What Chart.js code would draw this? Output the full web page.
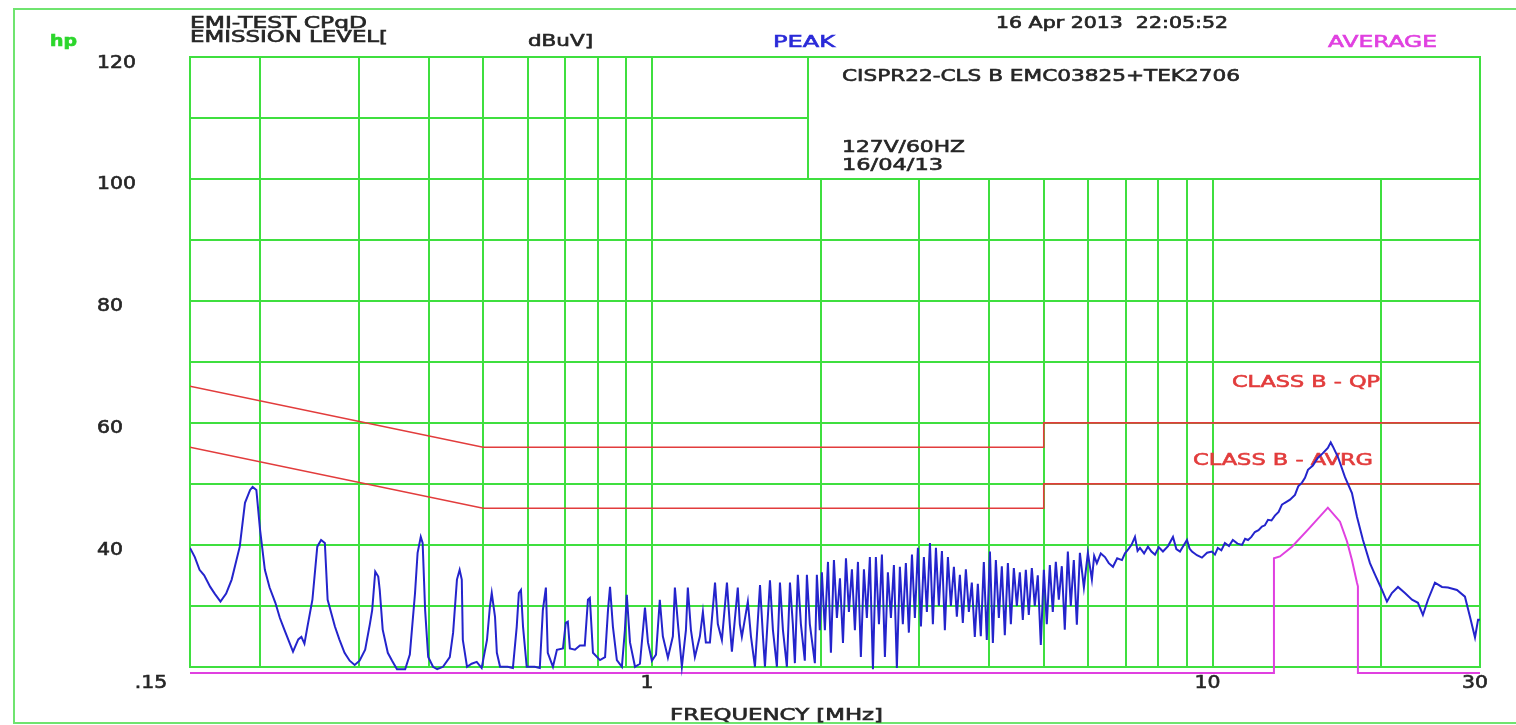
<!DOCTYPE html>
<html>
<head>
<meta charset="utf-8">
<title>EMI-TEST CPqD</title>
<script src="https://cdn.jsdelivr.net/npm/chart.js@4.4.0/dist/chart.umd.min.js"></script>
<style>
  body { margin: 0; background: #fff; }
  canvas { display: block; }
</style>
</head>
<body>
<canvas id="emi" width="1516" height="725"></canvas>
<script>
  // Varredura PEAK (MHz / dBuV)
  let peakFreq = [
    0.150, 0.153, 0.156, 0.159, 0.163, 0.166, 0.170, 0.174, 0.178, 0.184, 0.188, 0.192, 0.194, 0.197, 0.200,
    0.204, 0.208, 0.213, 0.217, 0.221, 0.229, 0.234, 0.237, 0.240, 0.243, 0.248, 0.253, 0.257, 0.261, 0.264,
    0.272, 0.277, 0.283, 0.289, 0.295, 0.301, 0.308, 0.314, 0.317, 0.321, 0.325, 0.327, 0.331, 0.338, 0.344,
    0.351, 0.363, 0.370, 0.378, 0.382, 0.387, 0.390, 0.394, 0.399, 0.407, 0.414, 0.424, 0.436, 0.442, 0.449,
    0.454, 0.458, 0.460, 0.468, 0.477, 0.487, 0.497, 0.508, 0.514, 0.518, 0.525, 0.529, 0.536, 0.553, 0.565,
    0.574, 0.579, 0.584, 0.589, 0.598, 0.618, 0.631, 0.639, 0.647, 0.652, 0.666, 0.677, 0.694, 0.702, 0.708,
    0.714, 0.729, 0.744, 0.759, 0.769, 0.775, 0.785, 0.808, 0.825, 0.835, 0.842, 0.852, 0.866, 0.884, 0.895,
    0.902, 0.914, 0.933, 0.952, 0.972, 0.984, 1.000, 1.017, 1.033, 1.046, 1.068, 1.090, 1.099, 1.113, 1.131,
    1.150, 1.159, 1.174, 1.193, 1.218, 1.233, 1.248, 1.269, 1.296, 1.311, 1.333, 1.361, 1.377, 1.389, 1.423,
    1.435, 1.447, 1.483, 1.502, 1.527, 1.559, 1.578, 1.591, 1.624, 1.644, 1.671, 1.692, 1.713, 1.741, 1.763,
    1.784, 1.799, 1.821, 1.844, 1.874, 1.890, 1.913, 1.953, 1.969, 1.993,
    2.010, 2.035, 2.061, 2.086, 2.112, 2.138, 2.165, 2.192, 2.219, 2.246, 2.274, 2.302, 2.331, 2.359, 2.389,
    2.418, 2.448, 2.479, 2.509, 2.541, 2.572, 2.604, 2.636, 2.669, 2.702, 2.735, 2.769, 2.803, 2.838, 2.873,
    2.910, 2.945, 2.982, 3.019, 3.056, 3.094, 3.133, 3.171, 3.211, 3.250, 3.291, 3.331, 3.373, 3.414, 3.457,
    3.499, 3.543, 3.586, 3.631, 3.676, 3.721, 3.767, 3.814, 3.861, 3.909, 3.957, 4.008, 4.057, 4.107, 4.158,
    4.209, 4.261, 4.315, 4.368, 4.422, 4.477, 4.532, 4.588, 4.645, 4.702, 4.761, 4.819, 4.879, 4.940, 5.002,
    5.063, 5.126, 5.189, 5.254, 5.319, 5.385, 5.451, 5.520, 5.587, 5.657, 5.728, 5.800,
    5.896, 5.993, 6.093, 6.150, 6.219, 6.320, 6.429, 6.530,
    6.644, 6.760, 6.894, 6.980, 7.066, 7.170, 7.272, 7.350, 7.423, 7.550, 7.671, 7.780, 7.895, 8.020, 8.158,
    8.330, 8.501, 8.620, 8.749, 8.880, 9.004, 9.100, 9.191, 9.380, 9.575, 9.780, 9.977, 10.10, 10.22, 10.37,
    10.52, 10.70, 10.87, 11.08, 11.29, 11.43, 11.57, 11.73, 11.90, 12.08, 12.25, 12.40, 12.56, 12.74, 12.92,
    13.12, 13.30, 13.46, 13.75, 14.03, 14.22, 14.44, 14.62, 14.80, 15.10, 15.42, 15.72, 16.06, 16.25, 16.40,
    16.74, 17.23, 17.73, 18.10, 18.55, 19.09, 19.49, 20.06, 20.47, 20.89, 21.42, 22.04, 22.69, 23.25, 23.73,
    24.23, 24.93, 25.66, 26.30, 27.29, 28.20, 28.79, 29.39, 29.76, 30.00
  ];
  let peakLevel = [
    39.5, 38.0, 35.9, 35.0, 33.1, 32.0, 30.7, 32.0, 34.3, 39.7, 46.9, 49.0, 49.5, 49.0, 42.5,
    35.9, 33.0, 30.5, 28.0, 26.1, 22.5, 24.5, 24.9, 23.8, 26.6, 31.0, 39.7, 40.8, 40.3, 31.0,
    26.6, 24.5, 22.3, 21.0, 20.3, 21.0, 22.8, 27.0, 29.3, 35.6, 34.8, 32.6, 26.1, 22.3, 21.0,
    19.6, 19.6, 22.0, 32.1, 38.7, 41.3, 40.3, 29.3, 21.6, 20.0, 19.6, 20.0, 21.6, 25.6, 34.3,
    35.9, 34.3, 24.4, 20.0, 20.5, 20.8, 19.8, 24.4, 29.8, 32.1, 28.2, 22.3, 20.0, 20.0, 19.8,
    26.6, 32.1, 32.6, 26.6, 20.0, 20.0, 19.8, 29.3, 33.0, 22.3, 20.0, 22.8, 23.0, 27.2, 27.4,
    23.0, 22.8, 23.5, 23.5, 31.0, 31.3, 22.3, 21.1, 21.6, 29.3, 33.1, 26.6, 21.1, 20.0, 26.0,
    31.8, 24.0, 20.0, 20.5, 29.7, 24.0, 21.0, 22.0, 31.0, 25.0, 21.5, 25.0, 33.0, 27.0, 20.0,
    26.0, 33.0, 26.0, 21.6, 25.0, 29.0, 24.0, 24.0, 33.8, 27.0, 24.4, 33.8, 27.0, 22.5, 33.0,
    27.0, 24.9, 30.7, 25.0, 20.0, 33.4, 25.0, 20.0, 34.2, 26.0, 20.0, 33.8, 26.0, 20.0, 33.8,
    27.0, 20.6, 35.1, 27.0, 21.0, 35.1, 27.0, 20.6, 35.1, 26.0,
    35.5, 26.0, 37.2, 22.3, 37.5, 28.0, 34.5, 23.9, 37.8, 29.0, 36.0, 26.0, 37.2, 21.6, 36.0,
    28.0, 38.0, 19.6, 38.0, 27.0, 38.4, 21.6, 35.5, 28.0, 36.7, 19.8, 36.4, 27.0, 37.0, 25.6,
    38.4, 28.0, 39.5, 26.6, 38.0, 29.0, 40.3, 27.0, 39.5, 30.0, 39.0, 26.0, 38.0, 30.0, 36.4,
    28.2, 35.1, 27.2, 36.0, 29.0, 33.8, 24.9, 33.6, 25.0, 37.2, 24.4, 38.9, 23.9, 37.5, 28.0,
    36.5, 25.2, 37.0, 27.0, 36.2, 30.0, 35.5, 27.7, 35.9, 28.5, 36.2, 30.0, 35.0, 23.6, 35.9,
    27.0, 36.7, 29.0, 37.2, 31.0, 36.5, 26.1, 38.9, 30.0, 37.5, 26.9, 38.7,
    33.0, 38.7, 34.3, 38.2, 37.0, 38.6, 38.0, 37.0,
    36.4, 37.8, 37.5, 38.6, 39.2, 40.0, 41.3, 39.0, 39.5, 38.6, 39.7, 38.9, 38.4, 39.6, 38.9,
    39.8, 41.3, 39.3, 38.9, 39.9, 40.8, 39.4, 38.9, 38.3, 37.9, 38.7, 38.9, 38.4, 39.5, 39.1,
    40.3, 39.8, 40.8, 40.2, 40.0, 41.0, 40.8, 41.3, 42.1, 42.4, 43.0, 43.2, 44.1, 44.0, 44.8,
    45.4, 46.6, 46.9, 47.4, 48.2, 49.6, 50.2, 51.0, 52.3, 53.0, 54.3, 55.0, 55.9, 56.8, 56.1,
    54.4, 51.1, 48.5, 44.6, 40.8, 37.0, 35.1, 32.6, 30.7, 32.1, 33.1, 32.1, 31.0, 30.5, 28.5,
    31.0, 33.8, 33.1, 33.0, 32.6, 31.5, 28.2, 24.8, 27.7, 27.7
  ];

  // Varredura AVERAGE
  let avgFreq = [0.15, 12.87, 12.87, 13.19, 13.86, 14.80, 16.06, 16.88, 17.37, 17.73, 18.10, 18.17, 18.17, 30];
  let avgLevel = [19, 19, 37.8, 38.1, 39.7, 42.5, 46.1, 43.8, 40.6, 37.5, 33.8, 33.2, 19, 19];

  // Limites CISPR22 classe B
  let qpFreq = [0.15, 0.5, 5, 5, 30];
  let qpLevel = [66, 56, 56, 60, 60];
  let avLimFreq = [0.15, 0.5, 5, 5, 30];
  let avLimLevel = [56, 46, 46, 50, 50];

  // Grade e rotulos
  let gridFreqs = [0.15, 0.2, 0.3, 0.4, 0.5, 0.6, 0.7, 0.8, 0.9, 1, 2, 3, 4, 5, 6, 7, 8, 9, 10, 20, 30];
  let gridLevels = [20, 30, 40, 50, 60, 70, 80, 90, 100, 110, 120];
  let boxFreq = 1.9; // borda esquerda da caixa de texto
  let yTicks = [120, 100, 80, 60, 40];
  let xTicks = [0.15, 1, 10, 30];
  let xTickLabels = [".15", "1", "10", "30"];

  function pares(fs, vs) {
    return fs.map(function (f, i) { return { x: f, y: vs[i] }; });
  }

  // texto esticado na horizontal (a figura original esta esticada)
  function textoEsc(ctx, s, x, y, sx, fonte, cor, alinh) {
    ctx.save();
    ctx.font = fonte;
    ctx.fillStyle = cor;
    ctx.strokeStyle = cor;
    ctx.lineWidth = 0.6;
    ctx.textBaseline = "alphabetic";
    ctx.textAlign = alinh || "left";
    ctx.translate(x, y);
    ctx.scale(sx, 1);
    ctx.fillText(s, 0, 0);
    ctx.strokeText(s, 0, 0); // engrossa um pouco
    ctx.restore();
  }

  function texto(ctx, s, x, y, largura, fonte, cor) {
    ctx.save();
    ctx.font = fonte;
    let w = ctx.measureText(s).width;
    ctx.restore();
    textoEsc(ctx, s, x, y, largura / w, fonte, cor);
  }

  let cinza = "#262626";
  let verde = "#3fdf3f";
  let vermelho = "#e23c3c";
  let f15 = '15px "DejaVu Sans"';
  let f16 = '16px "DejaVu Sans"';

  let quadro = {
    id: "quadro",
    beforeDraw: function (chart) {
      let ctx = chart.ctx;
      ctx.save();
      ctx.fillStyle = "#fff";
      ctx.fillRect(0, 0, chart.width, chart.height);
      ctx.strokeStyle = "#6fe46f";
      ctx.lineWidth = 2;
      ctx.strokeRect(14, 9, 1520, 714);
      ctx.restore();

      texto(ctx, "hp", 50, 46, 27, 'bold 15px "DejaVu Sans"', "#2bd62b");
      texto(ctx, "EMI-TEST CPqD", 190, 28, 177, f15, cinza);
      texto(ctx, "EMISSION LEVEL[", 190, 42, 198, f15, cinza);
      texto(ctx, "dBuV]", 528, 46, 65, f15, cinza);
      texto(ctx, "PEAK", 773, 47, 62, f16, "#2a2ad8");
      texto(ctx, "16 Apr 2013  22:05:52", 996, 28, 232, f15, cinza);
      texto(ctx, "AVERAGE", 1328, 47, 109, f16, "#e040e0");
    },
    beforeDatasetsDraw: function (chart) {
      let ctx = chart.ctx;
      let x = chart.scales.x, y = chart.scales.y;
      let esq = Math.round(x.getPixelForValue(0.15));
      let dir = Math.round(x.getPixelForValue(30));
      let caixa = Math.round(x.getPixelForValue(boxFreq));
      let topo = Math.round(y.getPixelForValue(120));
      let meio = Math.round(y.getPixelForValue(100));
      let base = Math.round(y.getPixelForValue(20));

      function linha(x1, y1, x2, y2) {
        ctx.beginPath();
        ctx.moveTo(x1, y1);
        ctx.lineTo(x2, y2);
        ctx.stroke();
      }

      ctx.save();
      ctx.strokeStyle = verde;
      ctx.lineWidth = 2;
      ctx.lineCap = "square";
      gridLevels.forEach(function (v) {
        let py = Math.round(y.getPixelForValue(v));
        linha(esq, py, v === 110 ? caixa : dir, py);
      });
      gridFreqs.forEach(function (f) {
        let px = Math.round(x.getPixelForValue(f));
        let y0 = (f <= 1 || f >= 30) ? topo : meio;
        linha(px, y0, px, base);
      });
      linha(caixa, topo, caixa, meio);
      ctx.restore();

      // caixa de informacoes
      texto(ctx, "CISPR22-CLS B EMC03825+TEK2706", 842, 81, 398, f16, cinza);
      texto(ctx, "127V/60HZ", 842, 152, 123, f16, cinza);
      texto(ctx, "16/04/13", 842, 170, 101, f16, cinza);

      // nomes dos limites
      texto(ctx, "CLASS B - QP", 1232, 387, 148, f16, vermelho);
      texto(ctx, "CLASS B - AVRG", 1193, 465, 180, f16, vermelho);
    },
    afterDraw: function (chart) {
      let ctx = chart.ctx;
      let x = chart.scales.x, y = chart.scales.y;

      yTicks.forEach(function (v) {
        let py = y.getPixelForValue(v);
        textoEsc(ctx, String(v), 97, py + 10.5, 1.2, '17px "DejaVu Sans"', cinza);
      });

      let base = y.getPixelForValue(20);
      xTicks.forEach(function (f, i) {
        let px = x.getPixelForValue(f);
        let dx = f === 0.15 ? -39 : -5;
        textoEsc(ctx, xTickLabels[i], px + dx, base + 21, 1.2, '17px "DejaVu Sans"', cinza, "center");
      });

      texto(ctx, "FREQUENCY [MHz]", 670, 720, 213, f15, cinza);
    }
  };

  let ctx = document.getElementById("emi").getContext("2d");
  let grafico = new Chart(ctx, {
    type: "line",
    data: {
      datasets: [
        { label: "PEAK", data: pares(peakFreq, peakLevel), borderColor: "#2424cc", borderWidth: 2 },
        { label: "AVERAGE", data: pares(avgFreq, avgLevel), borderColor: "#e040e0", borderWidth: 2 },
        { label: "CLASS B - QP", data: pares(qpFreq, qpLevel), borderColor: vermelho, borderWidth: 1.6 },
        { label: "CLASS B - AVRG", data: pares(avLimFreq, avLimLevel), borderColor: vermelho, borderWidth: 1.6 }
      ]
    },
    options: {
      responsive: false,
      animation: false,
      devicePixelRatio: 1,
      layout: { padding: { left: 190, right: 36, top: 57, bottom: 46 } },
      elements: {
        point: { radius: 0 },
        line: { tension: 0, fill: false }
      },
      plugins: {
        legend: { display: false },
        tooltip: { enabled: false }
      },
      scales: {
        x: { type: "logarithmic", min: 0.15, max: 30, display: false },
        y: { type: "linear", min: 18, max: 120, display: false }
      }
    },
    plugins: [quadro]
  });
</script>
</body>
</html>
